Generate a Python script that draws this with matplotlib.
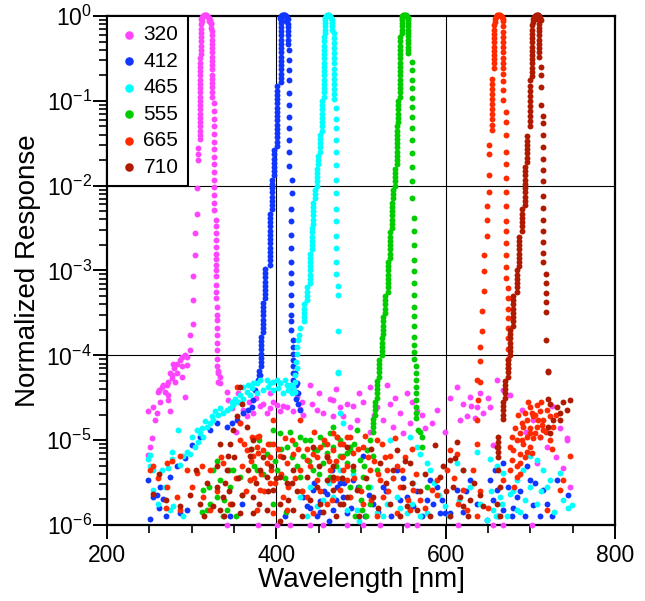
import numpy as np
import matplotlib.pyplot as plt
from matplotlib.ticker import FixedLocator, FuncFormatter, NullFormatter

plt.rcParams['font.family'] = ['Liberation Sans', 'DejaVu Sans']
plt.rcParams['mathtext.fontset'] = 'custom'
plt.rcParams['mathtext.rm'] = 'Liberation Sans'
plt.rcParams['mathtext.it'] = 'Liberation Sans'

# filter labels and colours
labels = ['320', '412', '465', '555', '665', '710']
colors = ['#ff44ff', '#1036ff', '#00ffff', '#00cc00', '#ff2a00', '#b01a00']

# all values: wavelength [nm], log10(normalized response)
# peak tops
top_320 = [(311.5, -0.03), (312.5, -0.01), (313.5, 0.0), (314.5, 0.01), (315.5, 0.01), (316.5, 0.01),
           (317.5, 0.01), (318.5, 0.0), (319.5, -0.01), (320.5, -0.02), (321.5, -0.05), (322.3, -0.08),
           (312.2, -0.06), (320.0, -0.06)]
top_412 = [(404.5, -0.02), (405.5, 0.0), (406.5, 0.01), (407.5, 0.01), (408.5, 0.01), (409.5, 0.01),
           (410.5, 0.01), (411.5, 0.0), (412.5, -0.02), (413.5, -0.04), (405.0, -0.05), (412.0, -0.06)]
top_465 = [(457.5, -0.02), (458.5, 0.0), (459.5, 0.01), (460.5, 0.01), (461.5, 0.01), (462.5, 0.01),
           (463.5, 0.0), (464.5, -0.02), (465.2, -0.05), (458.0, -0.05)]
top_555 = [(548.0, -0.02), (549.0, 0.0), (550.0, 0.01), (551.0, 0.01), (552.0, 0.01), (553.0, 0.01),
           (554.0, 0.0), (555.0, -0.02), (555.8, -0.05), (548.2, -0.05)]
top_665 = [(658.2, -0.03), (659.2, -0.01), (660.2, 0.0), (661.2, 0.01), (662.2, 0.01), (663.2, 0.01),
           (664.2, 0.01), (665.2, 0.0), (666.2, -0.01), (667.2, -0.03), (668.0, -0.06), (658.0, -0.07)]
top_710 = [(703.5, -0.03), (704.5, -0.01), (705.5, 0.0), (706.5, 0.01), (707.5, 0.01), (708.5, 0.01),
           (709.5, 0.01), (710.5, 0.0), (711.5, -0.02), (712.2, -0.05), (703.2, -0.07), (708.0, -0.04)]

# filter edges: (wavelength, [log10 response of the points in that column])
edge_320 = [
    (310.8, [-0.1, -0.15, -0.2, -0.25, -0.3, -0.35, -0.4, -0.45]),
    (309.3, [-0.5, -0.55, -0.6, -0.65, -0.7, -0.75, -0.8, -0.85, -0.9, -0.95, -1.0, -1.05, -1.1,
             -1.15, -1.2, -1.25, -1.3, -1.35, -1.4, -1.45]),
    (307.5, [-1.56, -1.63, -1.7]),
    (306.8, [-2.03, -2.33]),
    (304.0, [-2.56, -2.82]),
    (301.2, [-3.07, -3.35, -3.63]),
    (298.0, [-3.76, -3.94]),
    (322.8, [-0.1, -0.14]),
    (323.6, [-0.18, -0.23, -0.28, -0.33, -0.38, -0.43, -0.48, -0.53, -0.58, -0.63, -0.69, -0.74,
             -0.79, -0.84, -0.9, -0.95]),
    (326.0, [-1.03, -1.12, -1.21, -1.3, -1.39, -1.48, -1.57, -1.66, -1.75, -1.84, -1.93, -2.02,
             -2.11, -2.21, -2.29]),
    (328.7, [-2.4, -2.48, -2.56, -2.64, -2.72, -2.8, -2.86, -2.94, -3.0, -3.07, -3.17, -3.25, -3.33]),
    (330.3, [-3.43, -3.53, -3.58, -3.68, -3.76, -3.86, -3.94, -4.04, -4.13]),
    (331.5, [-4.19, -4.21, -4.31]),
]
edge_412 = [
    (405.0, [-0.08, -0.13, -0.18, -0.23, -0.28, -0.33, -0.38, -0.43, -0.48, -0.53, -0.58, -0.63,
             -0.68, -0.73, -0.78]),
    (401.2, [-0.83, -0.88, -0.93, -0.98, -1.03, -1.08, -1.13, -1.18, -1.23, -1.28, -1.33, -1.38,
             -1.43, -1.48, -1.53]),
    (397.2, [-1.58, -1.63, -1.68, -1.73, -1.78, -1.83, -1.88]),
    (394.5, [-1.93, -1.98, -2.03, -2.08, -2.13, -2.18, -2.23, -2.28]),
    (392.5, [-2.33, -2.38, -2.43, -2.48, -2.53, -2.58, -2.63, -2.68, -2.73, -2.78, -2.83, -2.88, -2.93]),
    (386.6, [-2.98, -3.03, -3.08, -3.13, -3.18, -3.23, -3.28, -3.33]),
    (384.6, [-3.38, -3.43, -3.48, -3.53, -3.58, -3.63, -3.68, -3.73]),
    (381.9, [-3.78, -3.83, -3.88, -3.93, -3.98, -4.03, -4.08, -4.13]),
    (379.9, [-4.18, -4.23, -4.28]),
    (413.5, [-0.09, -0.13, -0.18, -0.23, -0.28, -0.33]),
    (415.4, [-0.4, -0.52, -0.64, -0.75, -0.91, -1.05, -1.19, -1.32, -1.46, -1.6, -1.77]),
    (418.1, [-1.93, -2.09]),
    (417.3, [-2.27, -2.42, -2.58, -2.74, -2.9, -3.03, -3.15, -3.29, -3.41, -3.53, -3.6, -3.7]),
    (420.1, [-3.82, -3.9, -3.98, -4.06, -4.13, -4.21, -4.29]),
    (423.2, [-4.35, -4.43, -4.51]),
]
edge_465 = [
    (457.5, [-0.08, -0.12, -0.16, -0.2]),
    (456.3, [-0.25, -0.3, -0.35, -0.4, -0.45, -0.5, -0.55, -0.6, -0.65, -0.7, -0.75, -0.8, -0.85,
             -0.9, -0.95]),
    (453.5, [-1.0, -1.05, -1.1, -1.15, -1.2, -1.25, -1.3, -1.35]),
    (451.6, [-1.4, -1.45, -1.5, -1.55, -1.6]),
    (449.6, [-1.65, -1.7, -1.75]),
    (447.6, [-1.8, -1.85, -1.9, -1.95, -2.0]),
    (445.7, [-2.05, -2.1, -2.15]),
    (443.7, [-2.2, -2.25, -2.3, -2.35, -2.4, -2.45]),
    (441.7, [-2.5, -2.55, -2.6, -2.65, -2.7, -2.75]),
    (439.8, [-2.8, -2.85, -2.9, -2.95, -3.0, -3.05, -3.1, -3.15]),
    (435.8, [-3.2, -3.25, -3.3, -3.35]),
    (432.7, [-3.4, -3.45, -3.5, -3.55, -3.6]),
    (465.4, [-0.08, -0.12, -0.16]),
    (468.1, [-0.2, -0.26, -0.32, -0.38, -0.44, -0.5, -0.56, -0.62, -0.68, -0.74, -0.8, -0.86, -0.92, -0.98]),
    (470.5, [-1.09, -1.21, -1.32, -1.46, -1.6, -1.76, -1.93, -2.09, -2.27, -2.42, -2.59, -2.74, -2.9, -3.04]),
    (473.2, [-3.18, -3.29, -3.71, -4.2]),
]
edge_555 = [
    (548.0, [-0.08, -0.12, -0.16, -0.2]),
    (546.1, [-0.25, -0.3, -0.35, -0.4, -0.45, -0.5, -0.55, -0.6, -0.65, -0.7, -0.75, -0.8, -0.85,
             -0.9, -0.95]),
    (544.1, [-1.0, -1.05, -1.1, -1.15, -1.2, -1.25]),
    (542.1, [-1.3, -1.35, -1.4, -1.45, -1.5, -1.55, -1.6, -1.65, -1.7, -1.75]),
    (540.1, [-1.8, -1.85, -1.9, -1.95, -2.0]),
    (538.2, [-2.05, -2.1, -2.15]),
    (536.2, [-2.2, -2.25, -2.3, -2.35, -2.4, -2.45, -2.5]),
    (534.3, [-2.55, -2.6, -2.65, -2.7, -2.75, -2.8, -2.85]),
    (532.3, [-2.9, -2.95, -3.0, -3.05, -3.1, -3.15, -3.2, -3.25]),
    (528.4, [-3.3, -3.35, -3.4, -3.45, -3.5]),
    (526.4, [-3.55, -3.6, -3.65, -3.7, -3.75]),
    (524.4, [-3.8, -3.85, -3.9, -3.95, -4.0]),
    (521.7, [-4.05, -4.1, -4.15, -4.2, -4.25]),
    (518.5, [-4.3, -4.35, -4.4, -4.45, -4.5]),
    (516.5, [-4.55, -4.6, -4.65, -4.7]),
    (514.6, [-4.75, -4.8, -4.85, -4.9]),
    (555.8, [-0.08, -0.12, -0.16, -0.2, -0.24, -0.28, -0.32, -0.36, -0.4, -0.44]),
    (559.8, [-0.54, -0.64, -0.76, -0.85, -0.97, -1.07, -1.19, -1.32, -1.46, -1.62, -1.78, -1.95, -2.15]),
    (562.6, [-2.38, -2.54, -2.7, -2.88, -3.01, -3.15, -3.29, -3.43, -3.54, -3.66, -3.78, -3.88, -3.96, -4.04]),
    (565.4, [-4.13, -4.21, -4.29, -4.37, -4.45, -4.53, -4.61, -4.68, -4.74]),
]
edge_665 = [
    (657.5, [-0.11, -0.16, -0.21, -0.26, -0.31, -0.36, -0.41, -0.46, -0.51, -0.56, -0.61]),
    (654.3, [-0.74, -0.8, -0.86, -0.92, -0.98, -1.04, -1.1, -1.16, -1.22, -1.28, -1.34]),
    (651.6, [-1.52, -1.63, -1.87, -2.07]),
    (648.4, [-2.24, -2.59]),
    (649.2, [-2.40]),
    (645.5, [-2.82, -3.01, -3.24]),
    (642.5, [-3.48, -3.71]),
    (640.6, [-3.9, -4.07, -4.31]),
    (638.6, [-4.53]),
    (636.6, [-4.76]),
    (667.3, [-0.12, -0.19, -0.25, -0.31, -0.37, -0.43, -0.49, -0.55, -0.61, -0.68]),
    (668.1, [-0.77, -0.87, -0.99]),
    (670.8, [-1.13, -1.25, -1.4, -1.6, -1.74, -1.91, -2.08, -2.24, -2.42, -2.54, -2.68, -2.82, -2.96, -3.09]),
    (673.2, [-3.21, -3.33, -3.45, -3.56, -3.68, -3.8, -3.92, -4.04, -4.15]),
]
edge_710 = [
    (701.6, [-0.11, -0.16, -0.21, -0.26, -0.31, -0.36, -0.41, -0.46, -0.51, -0.56, -0.61, -0.66, -0.71]),
    (699.6, [-0.76, -0.82, -0.88, -0.94, -1.0, -1.06, -1.12, -1.18, -1.24, -1.3]),
    (696.4, [-1.42, -1.47, -1.52, -1.57, -1.62, -1.67, -1.72]),
    (693.7, [-1.78, -1.83, -1.88, -1.93, -1.98, -2.03, -2.08, -2.13, -2.18, -2.23]),
    (690.6, [-2.28, -2.33, -2.38, -2.43, -2.48, -2.53]),
    (687.0, [-2.6, -2.65, -2.7, -2.75, -2.8, -2.85, -2.9, -2.95]),
    (683.9, [-3.0, -3.05, -3.1, -3.15, -3.2, -3.25]),
    (679.9, [-3.3, -3.35, -3.4, -3.45, -3.5, -3.55, -3.6, -3.65]),
    (676.0, [-3.7, -3.75, -3.8, -3.85, -3.9, -3.95, -4.0]),
    (674.0, [-4.05, -4.1, -4.15, -4.2, -4.25]),
    (670.1, [-4.3, -4.35, -4.4, -4.45, -4.5]),
    (668.1, [-4.55, -4.6, -4.65, -4.7, -4.75]),
    (662.2, [-4.96, -5.02, -5.08, -5.14, -5.2]),
    (710.6, [-0.1, -0.14, -0.18, -0.23, -0.28, -0.33, -0.38, -0.43, -0.48]),
    (712.2, [-0.6, -0.7, -0.84, -1.05]),
    (715.3, [-1.18, -1.26, -1.4, -1.54, -1.68, -1.82, -1.95, -2.12, -2.26, -2.4, -2.54, -2.66, -2.79, -2.9]),
    (718.1, [-3.04, -3.15, -3.26, -3.37, -3.49, -3.82]),
    (720.5, [-4.2, -4.51]),
]

# scattered points below the edges (noise floor)
noise_320 = [
    (294.9, -4.02), (288.2, -4.02), (292.1, -4.0), (286.2, -4.06), (294.9, -4.11), (282.3, -4.10),
    (277.6, -4.10), (279.1, -4.15), (274.4, -4.21), (288.2, -4.13), (283.1, -4.21), (276.4, -4.27),
    (280.3, -4.31), (272.4, -4.31), (266.5, -4.35), (264.6, -4.37), (261.8, -4.41), (268.5, -4.43),
    (272.4, -4.47), (292.1, -4.49), (276.4, -4.23), (288.2, -4.25), (270.5, -4.35), (260.6, -4.43),
    (262.6, -4.55), (272.4, -4.53), (254.7, -4.61), (248.8, -4.66), (258.7, -4.68), (256.7, -4.76),
    (274.4, -4.66), (252.8, -4.98), (250.8, -5.08), (248.8, -5.18),
    (333.5, -4.25), (333.5, -4.33), (341.3, -4.43), (343.3, -4.53), (349.2, -4.57), (347.2, -4.62),
    (384.6, -4.57), (396.5, -4.55), (412.2, -4.61), (427.9, -4.63), (404.3, -4.66), (388.6, -4.68),
    (439.8, -4.35), (441.7, -4.57), (447.6, -4.64), (455.5, -4.68), (463.4, -4.51), (467.3, -4.72),
    (475.2, -4.61), (361.0, -4.64), (372.8, -4.68), (416.1, -4.41), (424.0, -4.49), (380.7, -4.6),
    (392.5, -4.62), (400.4, -4.58), (408.3, -4.6), (420.1, -4.66), (432.0, -4.7), (365.0, -4.72),
    (357.0, -4.8), (352.0, -4.9),
    (510.6, -4.37), (530.3, -4.35), (554.0, -4.45), (467.3, -4.53), (483.1, -4.57), (502.8, -4.55),
    (518.5, -4.61), (534.3, -4.57), (546.1, -4.68), (565.8, -4.66), (494.9, -4.76), (479.1, -4.72),
    (526.4, -4.76), (557.9, -4.80), (575.6, -4.86), (583.5, -4.80), (487.0, -4.84), (510.6, -4.9),
    (538.2, -4.84), (550.0, -4.92), (613.0, -4.37), (620.9, -4.57), (628.8, -4.49), (636.6, -4.61),
    (624.8, -4.72), (634.7, -4.74), (617.0, -4.76), (644.5, -4.68), (599.2, -4.9), (656.3, -5.06),
    (660.3, -4.29), (668.1, -4.41), (652.4, -4.61), (676.0, -4.47), (703.6, -4.76), (711.4, -4.96),
    (719.3, -5.08), (735.0, -4.86), (742.9, -4.98), (739.0, -5.33), (746.9, -5.55), (707.5, -5.27),
    (743.0, -5.0),
    (355.0, -4.45), (368.0, -4.55), (376.0, -4.5), (392.0, -4.45), (430.0, -4.55), (450.0, -4.45),
    (470.0, -4.4), (490.0, -4.6), (498.0, -4.45), (515.0, -4.7), (540.0, -4.5), (560.0, -4.55),
    (572.0, -4.7), (590.0, -4.65), (605.0, -4.5), (630.0, -4.6), (640.0, -4.45), (650.0, -4.5),
    (690.0, -4.65), (695.0, -4.9), (725.0, -4.6), (730.0, -5.2),
    (341.3, -6.0), (378.7, -6.0), (400.4, -6.0), (416.1, -6.0), (439.8, -6.0), (455.5, -6.0),
    (483.1, -6.0), (502.8, -6.0), (522.5, -6.0), (554.0, -6.0), (565.8, -6.0), (615.0, -6.0),
    (656.3, -6.0), (668.1, -6.0), (701.6, -6.0),
]
noise_412 = [
    (422.1, -4.21), (424.0, -4.33), (426.0, -4.45), (426.0, -4.57), (428.0, -4.64),
    (380.7, -4.23), (378.7, -4.29), (374.8, -4.41), (372.8, -4.53), (370.9, -4.61), (366.9, -4.64),
    (361.0, -4.68), (353.2, -4.76), (347.2, -4.8), (341.3, -4.84), (329.5, -4.8), (321.6, -4.88),
    (309.8, -4.96), (300.0, -5.06), (292.1, -5.21), (282.3, -5.31), (274.4, -5.43), (262.6, -5.55),
    (254.7, -5.67), (250.8, -5.93), (248.8, -5.47), (258.7, -5.65), (266.5, -5.69), (286.2, -5.86),
    (294.1, -5.82),
    (431.9, -5.67), (443.7, -5.59), (459.4, -5.63), (475.2, -5.51), (435.8, -5.78), (467.3, -5.82),
    (447.6, -5.9), (483.1, -5.86), (451.6, -5.72),
    (465.4, -5.35), (471.3, -5.55), (479.1, -5.67), (491.0, -5.47), (502.8, -5.19), (514.6, -5.75),
    (526.4, -5.55), (542.1, -5.35), (554.0, -5.67), (561.8, -5.78), (581.5, -5.47), (585.4, -5.75),
    (593.3, -5.86), (599.2, -5.86), (605.1, -5.86), (613.0, -5.59), (628.8, -5.47), (636.6, -5.75),
    (652.4, -5.47), (660.3, -5.59), (668.1, -5.82), (683.9, -5.67), (699.6, -5.47), (715.4, -5.59),
    (731.1, -5.47), (744.9, -5.65), (648.4, -5.94), (678.0, -5.9), (703.6, -5.76), (711.4, -5.9),
    (693.7, -5.9), (695.7, -5.31), (658.3, -5.35), (668.1, -5.27),
    (440.0, -5.8), (445.0, -5.5), (452.0, -5.85), (456.0, -5.6), (462.0, -5.95), (470.0, -5.7),
    (480.0, -5.5), (488.0, -5.8), (496.0, -5.55), (505.0, -5.9), (510.0, -5.65), (520.0, -5.85),
    (530.0, -5.6), (536.0, -5.9), (546.0, -5.7), (550.0, -5.45), (566.0, -5.6), (572.0, -5.9),
    (578.0, -5.7), (590.0, -5.55), (596.0, -5.7), (620.0, -5.85), (624.0, -5.6), (656.0, -5.7),
    (662.0, -5.9), (674.0, -5.55), (680.0, -5.8), (688.0, -5.6), (706.0, -5.5), (720.0, -5.75),
    (726.0, -5.9), (270.0, -5.9), (262.0, -5.8), (345.0, -5.9), (360.0, -5.75), (410.0, -5.9),
]
noise_465 = [
    (428.0, -3.68), (427.2, -3.76), (426.0, -3.82), (424.8, -3.9), (424.0, -3.99), (423.2, -4.08),
    (424.0, -4.15), (422.0, -4.23), (422.0, -4.31),
    (372.8, -4.33), (380.7, -4.29), (388.6, -4.29), (396.5, -4.31), (404.3, -4.33), (412.2, -4.35),
    (420.1, -4.37), (418.1, -4.45), (408.3, -4.45), (396.5, -4.41), (384.6, -4.41), (376.8, -4.45),
    (368.9, -4.47), (361.0, -4.51), (355.1, -4.55), (349.2, -4.59), (345.3, -4.62), (341.3, -4.64),
    (337.4, -4.68), (331.5, -4.70), (325.6, -4.76), (321.6, -4.80), (317.7, -4.84), (311.8, -4.86),
    (309.8, -4.92), (313.8, -4.96), (307.9, -5.02), (303.9, -5.08), (298.0, -5.16), (294.1, -5.14),
    (290.2, -5.19), (286.2, -5.29), (284.2, -4.88), (276.4, -5.14), (276.4, -5.22), (272.4, -5.33),
    (250.8, -5.18), (248.8, -5.22), (254.7, -5.35), (274.4, -5.82), (278.3, -5.78), (254.7, -5.59),
    (250.8, -5.31), (264.6, -5.35),
    (361.0, -4.37), (366.9, -4.35), (376.8, -4.33), (392.5, -4.33), (400.4, -4.29), (410.2, -4.29),
    (416.1, -4.35), (390.5, -4.37), (402.3, -4.39), (414.2, -4.41), (422.0, -4.43), (370.9, -4.39),
    (365.0, -4.43), (357.1, -4.47), (351.2, -4.51), (347.2, -4.55), (333.5, -4.62), (327.6, -4.66),
    (323.6, -4.72), (315.7, -4.78), (305.9, -4.88), (300.0, -4.96),
    (475.2, -4.68), (479.1, -4.8), (534.3, -5.0), (557.9, -4.96), (565.8, -5.08), (569.7, -5.16),
    (577.6, -5.27), (581.5, -5.35), (561.8, -5.51), (542.1, -5.67), (530.3, -5.75), (510.6, -5.55),
    (487.0, -5.67), (494.9, -5.82), (518.5, -5.86), (554.0, -5.86), (577.6, -5.86), (599.2, -5.78),
    (613.0, -5.27), (620.9, -5.35), (636.6, -5.14), (628.8, -5.55), (652.4, -5.22), (660.3, -5.31),
    (668.1, -5.39), (676.0, -5.63), (683.9, -5.47), (691.8, -5.35), (699.6, -5.19), (707.5, -5.23),
    (715.4, -5.35), (723.2, -5.47), (735.0, -5.39), (739.0, -5.71), (748.8, -5.77), (656.3, -5.82),
    (672.1, -5.9), (683.9, -5.82), (707.5, -5.75), (719.3, -5.55), (648.4, -5.94), (664.2, -5.67),
    (699.6, -5.55), (428.0, -5.67), (439.8, -5.55), (447.6, -5.78), (467.3, -5.67), (475.2, -5.35),
    (483.1, -5.82), (473.2, -4.21),
    (436.0, -5.9), (455.0, -5.7), (462.0, -5.5), (490.0, -5.4), (498.0, -5.95), (526.0, -5.9),
    (538.0, -5.45), (546.0, -5.8), (560.0, -5.75), (570.0, -5.9), (586.0, -5.5), (592.0, -5.65),
    (604.0, -5.9), (616.0, -5.7), (640.0, -5.75), (654.0, -5.6), (660.0, -5.9), (666.0, -5.75),
    (680.0, -5.6), (688.0, -5.85), (694.0, -5.7), (712.0, -5.6), (728.0, -5.85), (744.0, -5.8),
    (260.0, -5.75), (268.0, -5.55), (290.0, -5.9),
]
noise_555 = [
    (567.7, -4.88), (569.7, -4.9), (571.7, -4.96), (571.7, -5.08),
    (506.7, -5.12), (498.8, -5.23), (491.0, -5.35), (502.8, -5.43), (510.6, -5.0), (487.0, -5.08),
    (479.1, -5.19), (471.3, -4.96), (467.3, -4.84), (494.9, -4.88), (514.6, -5.19), (508.7, -5.55),
    (518.5, -5.35), (577.6, -5.55), (487.0, -5.55), (500.8, -5.82), (492.9, -5.9), (510.6, -5.75),
    (396.5, -4.88), (404.3, -4.92), (416.1, -4.9), (428.0, -4.96), (439.8, -5.0), (451.6, -4.96),
    (463.4, -4.92), (475.2, -5.0), (467.3, -5.08), (447.6, -5.12), (431.9, -5.19), (412.2, -5.08),
    (388.6, -5.16), (376.8, -5.35), (368.9, -5.47), (357.1, -5.43), (345.3, -5.55), (333.5, -5.47),
    (329.5, -5.67), (321.6, -5.75), (317.7, -5.82), (337.4, -5.9), (341.3, -5.82), (313.8, -5.59),
    (325.6, -5.35), (349.2, -5.35), (428.0, -5.43), (455.5, -5.27), (475.2, -5.19), (424.0, -5.31),
    (400.4, -5.35), (443.7, -5.35), (463.4, -5.43), (483.1, -5.27), (487.0, -5.12),
    (370.0, -5.1), (374.0, -5.3), (380.0, -5.0), (384.0, -5.4), (392.0, -5.05), (398.0, -5.25),
    (406.0, -5.1), (410.0, -5.45), (418.0, -5.2), (422.0, -5.05), (434.0, -5.0), (438.0, -5.25),
    (444.0, -5.1), (450.0, -5.4), (456.0, -5.05), (460.0, -5.15), (470.0, -5.3), (478.0, -5.45),
    (484.0, -5.15), (492.0, -5.05), (498.0, -5.55), (504.0, -5.3), (360.0, -5.65), (352.0, -5.9),
    (330.0, -5.25), (320.0, -5.55), (312.0, -5.85), (338.0, -5.7), (344.0, -5.35), (500.0, -5.7),
    (506.0, -5.9), (430.0, -5.6), (412.0, -5.85), (396.0, -5.75),
]
noise_665 = [
    (699.6, -4.61), (707.5, -4.59), (711.4, -4.66), (703.6, -4.72), (695.7, -4.76), (715.4, -4.76),
    (723.2, -4.72), (691.8, -4.84), (699.6, -4.86), (707.5, -4.84), (715.4, -4.88), (687.8, -4.92),
    (695.7, -4.96), (703.6, -4.98), (711.4, -4.96), (683.9, -5.0), (691.8, -5.04), (699.6, -5.08),
    (680.0, -5.12), (687.8, -5.16), (695.7, -5.14), (678.0, -5.23), (683.9, -5.31), (676.0, -5.08),
    (719.3, -4.64), (727.2, -4.84), (709.5, -4.76), (701.6, -4.68), (693.7, -4.68), (689.8, -4.8),
    (681.9, -4.86), (678.0, -4.96), (705.5, -4.92), (713.4, -4.82), (699.6, -4.92), (723.2, -5.0),
    (685.0, -4.7), (690.0, -5.0), (697.0, -4.55), (705.0, -4.7), (712.0, -4.55), (718.0, -4.9),
    (694.0, -5.2), (702.0, -5.15), (688.0, -5.4), (681.0, -5.55), (676.0, -5.35), (726.0, -5.1),
    (730.0, -4.7),
    (270.5, -5.27), (276.4, -5.25), (286.2, -5.19), (294.1, -5.35), (250.8, -5.35), (254.7, -5.31),
    (270.5, -5.55), (282.3, -5.67), (286.2, -5.82), (305.9, -5.39), (313.8, -5.67), (321.6, -5.82),
    (321.6, -5.35), (337.4, -5.27), (357.1, -5.0), (365.0, -5.12), (372.8, -5.19), (376.8, -5.08),
    (384.6, -5.12), (388.6, -5.27), (396.5, -5.04), (404.3, -5.19), (412.2, -5.27), (420.1, -5.16),
    (368.9, -5.47), (380.7, -5.59), (392.5, -5.51), (408.3, -5.67), (376.8, -5.82), (396.5, -5.86),
    (412.2, -5.82), (428.0, -5.35), (435.8, -5.23), (443.7, -5.16), (451.6, -5.08), (459.4, -5.19),
    (467.3, -5.12), (475.2, -5.04), (483.1, -4.96), (463.4, -5.35), (447.6, -5.47), (435.8, -5.67),
    (459.4, -5.75), (475.2, -5.59), (483.1, -5.47), (443.7, -5.86), (376.8, -4.96), (396.5, -4.76),
    (357.1, -4.8), (353.2, -4.37), (370.9, -4.96), (428.0, -4.76), (467.3, -4.92),
    (362.0, -5.05), (380.0, -4.95), (392.0, -5.2), (410.0, -4.98), (425.0, -5.1), (445.0, -4.9),
    (460.0, -5.05), (470.0, -5.25), (490.0, -5.15), (505.0, -4.95), (515.0, -5.25), (525.0, -5.05),
    (540.0, -4.98), (552.0, -5.2), (560.0, -5.1),
    (471.3, -4.96), (479.1, -5.04), (487.0, -4.96), (502.8, -5.08), (518.5, -5.0), (534.3, -5.19),
    (542.1, -5.31), (530.3, -5.35), (522.5, -5.47), (510.6, -5.35), (479.1, -5.35), (467.3, -5.47),
    (487.0, -5.67), (502.8, -5.75), (526.4, -5.67), (546.1, -5.55), (561.8, -5.59), (569.7, -5.71),
    (557.9, -5.82), (542.1, -5.86), (518.5, -5.9), (583.5, -5.59), (589.4, -5.47), (601.2, -5.35),
    (605.1, -5.12), (613.0, -5.16), (636.6, -5.04), (632.7, -5.35), (620.9, -5.59), (624.8, -5.82),
    (636.6, -5.9), (683.9, -5.43), (687.8, -5.27), (668.1, -5.47), (719.3, -5.82), (735.0, -5.59),
    (746.9, -5.19), (739.0, -5.47), (636.6, -4.29),
    (330.0, -5.6), (335.0, -5.2), (345.0, -5.75), (352.0, -5.45), (360.0, -5.3), (364.0, -5.6),
    (370.0, -5.25), (374.0, -5.45), (378.0, -5.15), (382.0, -5.4), (386.0, -5.6), (390.0, -5.05),
    (394.0, -5.35), (398.0, -5.5), (402.0, -5.1), (406.0, -5.4), (414.0, -5.55), (418.0, -5.0),
    (422.0, -5.45), (430.0, -5.6), (436.0, -5.1), (440.0, -5.3), (448.0, -5.2), (452.0, -5.6),
    (456.0, -5.0), (462.0, -5.25), (466.0, -5.7), (472.0, -5.45), (478.0, -5.2), (484.0, -5.3),
    (492.0, -5.45), (496.0, -5.1), (500.0, -5.6), (508.0, -5.2), (512.0, -5.7), (520.0, -5.4),
    (528.0, -5.2), (532.0, -5.6), (538.0, -5.45), (548.0, -5.35), (555.0, -5.7), (565.0, -5.4),
    (575.0, -5.8), (590.0, -5.65), (610.0, -5.45), (615.0, -5.75), (640.0, -5.6), (650.0, -5.8),
    (270.0, -5.8), (260.0, -5.45), (300.0, -5.55), (312.0, -5.3),
]
noise_710 = [
    (721.3, -4.19), (723.2, -4.57), (731.1, -4.61), (739.0, -4.55), (746.9, -4.53), (742.9, -4.64),
    (735.0, -4.68), (727.2, -4.76), (721.3, -4.84), (735.0, -4.76), (723.2, -4.92),
    (357.1, -4.37), (359.0, -4.57), (353.2, -4.72), (349.2, -4.88), (345.3, -5.04), (343.3, -5.19),
    (341.3, -5.35), (339.4, -5.51), (337.4, -5.67), (333.5, -5.82), (347.2, -5.75), (329.5, -5.55),
    (325.6, -5.78), (309.8, -5.75), (317.7, -5.51), (286.2, -5.78), (254.7, -5.63), (365.0, -4.84),
    (372.8, -5.0), (368.9, -5.19), (380.7, -5.35), (388.6, -5.43), (396.5, -5.59), (404.3, -5.43),
    (412.2, -5.51), (420.1, -5.35), (404.3, -5.75), (388.6, -5.82), (372.8, -5.67), (435.8, -5.43),
    (447.6, -5.55), (459.4, -5.47), (467.3, -5.59), (475.2, -5.75), (483.1, -5.67), (451.6, -5.75),
    (443.7, -5.08), (467.3, -5.31), (483.1, -5.08), (357.1, -5.86), (420.1, -5.82), (372.8, -5.86),
    (467.3, -5.43), (479.1, -5.75), (494.9, -5.59), (514.6, -5.67), (534.3, -5.75), (550.0, -5.55),
    (554.0, -5.78), (565.8, -5.82), (522.5, -5.27), (542.1, -5.12), (557.9, -5.27), (587.4, -5.06),
    (597.3, -5.31), (605.1, -5.23), (611.0, -5.21), (613.0, -5.02), (609.1, -5.55), (616.9, -5.67),
    (620.9, -5.78), (628.8, -5.71), (644.5, -5.78), (660.3, -5.08), (662.2, -5.35), (664.2, -5.55),
    (660.3, -5.75), (664.2, -5.9), (605.1, -5.9), (593.3, -5.43),
    (330.0, -5.3), (334.0, -5.05), (338.0, -5.9), (344.0, -5.6), (350.0, -5.2), (355.0, -5.45),
    (360.0, -5.65), (366.0, -5.35), (370.0, -5.1), (376.0, -5.5), (380.0, -5.75), (384.0, -5.2),
    (390.0, -5.6), (394.0, -5.3), (400.0, -5.45), (404.0, -5.95), (408.0, -5.2), (414.0, -5.7),
    (418.0, -5.5), (424.0, -5.6), (430.0, -5.9), (440.0, -5.7), (450.0, -5.3), (455.0, -5.85),
    (460.0, -5.2), (470.0, -5.9), (478.0, -5.45), (490.0, -5.3), (498.0, -5.9), (506.0, -5.45),
    (512.0, -5.1), (520.0, -5.8), (530.0, -5.5), (538.0, -5.35), (546.0, -5.9), (552.0, -5.25),
    (560.0, -5.5), (570.0, -5.6), (576.0, -5.4), (582.0, -5.9), (600.0, -5.6), (620.0, -5.35),
    (626.0, -5.9), (634.0, -5.5), (640.0, -5.65), (315.0, -5.9), (305.0, -5.35), (298.0, -5.65),
    (270.0, -5.7), (262.0, -5.4),
]

tops = [top_320, top_412, top_465, top_555, top_665, top_710]
edges = [edge_320, edge_412, edge_465, edge_555, edge_665, edge_710]
noises = [noise_320, noise_412, noise_465, noise_555, noise_665, noise_710]


def collect(top, edge, noise):
    wl = [p[0] for p in top] + [w for w, col in edge for _ in col] + [p[0] for p in noise]
    lg = [p[1] for p in top] + [v for w, col in edge for v in col] + [p[1] for p in noise]
    return np.array(wl), 10.0 ** np.array(lg)


fig = plt.figure(figsize=(6.45, 6.01), dpi=100)
ax = fig.add_axes([0.1659, 0.1265, 0.7876, 0.8469])

for lab, col, top, edge, noise in zip(labels, colors, tops, edges, noises):
    x, y = collect(top, edge, noise)
    ax.scatter(x, y, s=18, color=col, linewidths=0, label=lab, clip_on=False, zorder=3)

# sparse grid lines
for gx in [400, 600]:
    ax.axvline(gx, color='black', lw=0.8, zorder=1)
for gy in [1e-2, 1e-4]:
    ax.axhline(gy, color='black', lw=0.8, zorder=1)

ax.set_yscale('log')
ax.set_xlim(200, 800)
ax.set_ylim(1e-6, 1)

ax.xaxis.set_major_locator(FixedLocator([200, 400, 600, 800]))
ax.xaxis.set_minor_locator(FixedLocator(np.arange(250, 800, 50)))
ax.yaxis.set_major_locator(FixedLocator([10.0 ** k for k in range(-6, 1)]))
ax.yaxis.set_minor_locator(FixedLocator([m * 10.0 ** k for k in range(-6, 0) for m in range(2, 10)]))
ax.yaxis.set_major_formatter(FuncFormatter(lambda v, p: r'$10^{%d}$' % round(np.log10(v))))
ax.yaxis.set_minor_formatter(NullFormatter())

ax.tick_params(which='major', direction='out', length=10, width=1.4, labelsize=16.5)
ax.tick_params(which='minor', direction='out', length=5.5, width=1.2)
ax.tick_params(axis='y', which='major', pad=1)
for sp in ax.spines.values():
    sp.set_linewidth(1.6)

ax.set_xlabel('Wavelength [nm]', fontsize=20, labelpad=0)
ax.set_ylabel('Normalized Response', fontsize=20, labelpad=4)

leg = ax.legend(loc='upper left', bbox_to_anchor=(0, 1), borderaxespad=0, fontsize=15,
                handletextpad=0.1, handlelength=1.2, labelspacing=0.36, borderpad=0.45,
                markerscale=1.45, fancybox=False, framealpha=1, edgecolor='black')
leg.get_frame().set_linewidth(1.5)
leg.set_zorder(5)

fig.savefig('out.png', dpi=100)
